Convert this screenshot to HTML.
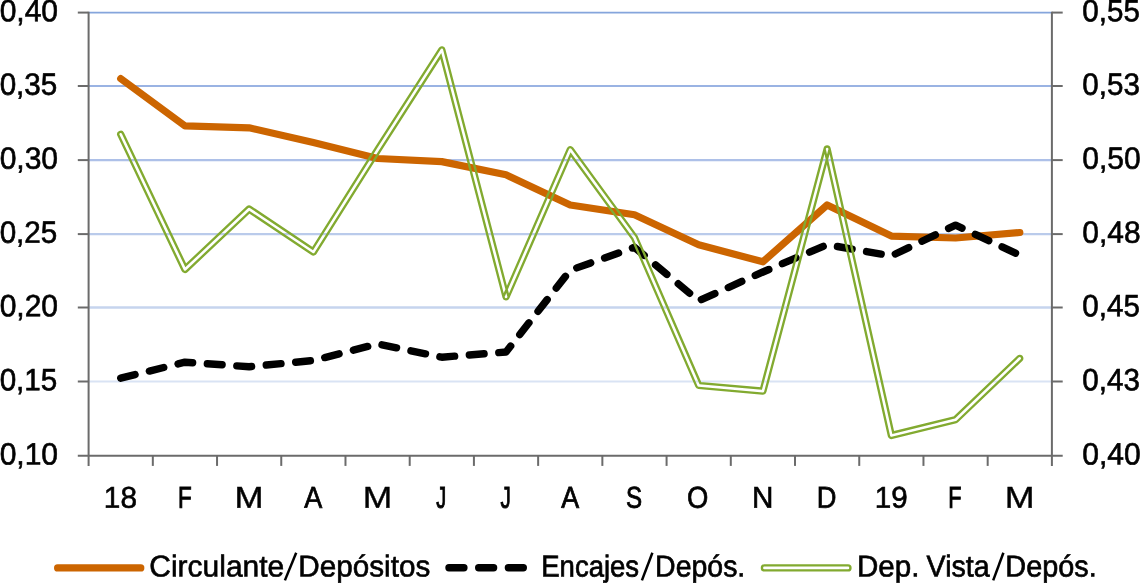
<!DOCTYPE html>
<html lang="es"><head><meta charset="utf-8"><title>Chart</title>
<style>
html,body{margin:0;padding:0;background:#ffffff;}
body{width:1140px;height:583px;overflow:hidden;font-family:"Liberation Sans",sans-serif;}
svg{display:block;}
</style></head><body>
<svg width="1140" height="583" viewBox="0 0 1140 583">
<rect width="1140" height="583" fill="#ffffff"/>
<g>
<g fill="none">
<line x1="88.6" y1="12.58" x2="1051.9" y2="12.58" stroke="#85a5dc" stroke-width="1.9"/>
<line x1="88.6" y1="86.00" x2="1051.9" y2="86.00" stroke="#9ab3e3" stroke-width="2.1"/>
<line x1="88.6" y1="160.10" x2="1051.9" y2="160.10" stroke="#adc0e8" stroke-width="2.1"/>
<line x1="88.6" y1="234.10" x2="1051.9" y2="234.10" stroke="#bacbeb" stroke-width="2.1"/>
<line x1="88.6" y1="307.50" x2="1051.9" y2="307.50" stroke="#c6d4ee" stroke-width="2.4"/>
<line x1="88.6" y1="381.50" x2="1051.9" y2="381.50" stroke="#d9e3f4" stroke-width="2.1"/>
</g>
<g stroke="#6b6b6b" stroke-width="2.0" fill="none">
<line x1="88.6" y1="11.85" x2="88.6" y2="465.91"/>
<line x1="1051.9" y1="11.85" x2="1051.9" y2="465.91"/>
<line x1="77.80" y1="455.71" x2="1062.70" y2="455.71"/>
<line x1="77.80" y1="12.58" x2="88.6" y2="12.58"/>
<line x1="1051.9" y1="12.58" x2="1062.70" y2="12.58"/>
<line x1="77.80" y1="86.00" x2="88.6" y2="86.00"/>
<line x1="1051.9" y1="86.00" x2="1062.70" y2="86.00"/>
<line x1="77.80" y1="160.10" x2="88.6" y2="160.10"/>
<line x1="1051.9" y1="160.10" x2="1062.70" y2="160.10"/>
<line x1="77.80" y1="234.10" x2="88.6" y2="234.10"/>
<line x1="1051.9" y1="234.10" x2="1062.70" y2="234.10"/>
<line x1="77.80" y1="307.50" x2="88.6" y2="307.50"/>
<line x1="1051.9" y1="307.50" x2="1062.70" y2="307.50"/>
<line x1="77.80" y1="381.50" x2="88.6" y2="381.50"/>
<line x1="1051.9" y1="381.50" x2="1062.70" y2="381.50"/>
<line x1="152.82" y1="455.71" x2="152.82" y2="465.91"/>
<line x1="217.04" y1="455.71" x2="217.04" y2="465.91"/>
<line x1="281.26" y1="455.71" x2="281.26" y2="465.91"/>
<line x1="345.48" y1="455.71" x2="345.48" y2="465.91"/>
<line x1="409.70" y1="455.71" x2="409.70" y2="465.91"/>
<line x1="473.92" y1="455.71" x2="473.92" y2="465.91"/>
<line x1="538.14" y1="455.71" x2="538.14" y2="465.91"/>
<line x1="602.36" y1="455.71" x2="602.36" y2="465.91"/>
<line x1="666.58" y1="455.71" x2="666.58" y2="465.91"/>
<line x1="730.80" y1="455.71" x2="730.80" y2="465.91"/>
<line x1="795.02" y1="455.71" x2="795.02" y2="465.91"/>
<line x1="859.24" y1="455.71" x2="859.24" y2="465.91"/>
<line x1="923.46" y1="455.71" x2="923.46" y2="465.91"/>
<line x1="987.68" y1="455.71" x2="987.68" y2="465.91"/>
</g>
<polyline points="120.71,78.60 184.93,125.80 249.15,127.80 313.37,142.50 377.59,158.50 441.81,161.60 506.03,174.80 570.25,205.00 634.47,214.80 698.69,244.80 762.91,261.80 827.13,205.00 891.35,236.10 955.57,238.00 1019.79,232.50" fill="none" stroke="#cc6500" stroke-width="7.2" stroke-linecap="round" stroke-linejoin="round"/>
<polyline points="120.71,378.20 184.93,362.20 249.15,366.70 313.37,360.50 377.59,343.90 441.81,357.20 506.03,352.00 570.25,270.20 634.47,247.30 698.69,300.80 762.91,272.00 827.13,244.70 891.35,255.90 955.57,225.10 1019.79,255.20" fill="none" stroke="#000000" stroke-width="7.4" stroke-linecap="round" stroke-linejoin="round" stroke-dasharray="14.8 14.75"/>
<path d="M118.47 135.36L182.69 270.56A2.475 2.475 0 0 0 186.63 271.30L249.41 212.15L311.99 254.06A2.475 2.475 0 0 0 315.46 253.32L379.68 151.33L440.84 56.00L503.63 297.52A2.475 2.475 0 0 0 508.30 297.89L570.79 154.54L632.31 238.84L696.42 386.39A2.475 2.475 0 0 0 698.47 387.87L762.69 393.57A2.475 2.475 0 0 0 765.30 391.73L829.52 149.63M824.71 149.54L888.93 436.04A2.475 2.475 0 0 0 891.94 437.90L956.16 422.10A2.475 2.475 0 0 0 957.28 421.49L1021.50 360.09M122.95 133.24L185.71 265.37L247.45 207.20A2.475 2.475 0 0 1 250.53 206.94L312.63 248.53L375.50 148.68A2.475 2.475 0 0 1 375.51 148.66L439.73 48.56A2.475 2.475 0 0 1 444.21 49.28L508.43 296.28M503.76 295.91L567.98 148.61A2.475 2.475 0 0 1 572.25 148.14L636.47 236.14A2.475 2.475 0 0 1 636.74 236.61L700.37 383.06L761.05 388.45L824.74 148.37A2.475 2.475 0 0 1 829.55 148.46L893.21 432.49L954.34 417.45L1018.08 356.51M118.47 135.36A2.475 2.475 0 0 1 122.95 133.24M1018.08 356.51A2.475 2.475 0 0 1 1021.50 360.09" fill="none" stroke="#82aa30" stroke-width="2.35" stroke-linecap="round" stroke-linejoin="miter" stroke-miterlimit="6"/>
<line x1="57.6" y1="567.9" x2="140.8" y2="567.9" stroke="#cc6500" stroke-width="7.2" stroke-linecap="round"/>
<line x1="449.0" y1="567.75" x2="535" y2="567.75" stroke="#000000" stroke-width="7.4" stroke-linecap="round" stroke-dasharray="14.9 14.8"/>
<path d="M764.40 570.38L848.00 570.38M764.40 565.42L848.00 565.42M764.40 570.38A2.475 2.475 0 0 1 764.40 565.42M848.00 565.42A2.475 2.475 0 0 1 848.00 570.38" fill="none" stroke="#82aa30" stroke-width="2.35" stroke-linecap="round"/>
<line x1="284.90" y1="580.4" x2="296.20" y2="552.8" stroke="#000" stroke-width="2.5"/>
<line x1="641.90" y1="580.4" x2="652.40" y2="552.8" stroke="#000" stroke-width="2.5"/>
<line x1="993.20" y1="580.4" x2="1003.40" y2="552.8" stroke="#000" stroke-width="2.5"/>
<g font-family="'Liberation Sans', sans-serif" font-size="30.2" fill="#000000" stroke="#000000" stroke-width="0.6" opacity="0.999" text-rendering="geometricPrecision">
<text transform="matrix(0.9947 0.0005 0 1.02 -0.37 21.28)" stroke-width="0.61">0,40</text>
<text transform="matrix(0.9811 0.0005 0 1.02 -0.36 94.70)" stroke-width="0.63">0,35</text>
<text transform="matrix(0.9947 0.0005 0 1.02 -0.37 168.80)" stroke-width="0.61">0,30</text>
<text transform="matrix(0.9811 0.0005 0 1.02 -0.36 242.80)" stroke-width="0.63">0,25</text>
<text transform="matrix(0.9947 0.0005 0 1.02 -0.37 316.20)" stroke-width="0.61">0,20</text>
<text transform="matrix(0.9811 0.0005 0 1.02 -0.36 390.20)" stroke-width="0.63">0,15</text>
<text transform="matrix(0.9947 0.0005 0 1.02 -0.37 464.40)" stroke-width="0.61">0,10</text>
<text transform="matrix(0.9793 0.0005 0 1.02 1082.34 21.28)" stroke-width="0.63">0,55</text>
<text transform="matrix(0.9793 0.0005 0 1.02 1082.34 94.70)" stroke-width="0.63">0,53</text>
<text transform="matrix(0.9947 0.0005 0 1.02 1082.33 168.80)" stroke-width="0.61">0,50</text>
<text transform="matrix(0.9916 0.0005 0 1.02 1082.33 242.80)" stroke-width="0.61">0,48</text>
<text transform="matrix(0.9793 0.0005 0 1.02 1082.34 316.20)" stroke-width="0.63">0,45</text>
<text transform="matrix(0.9793 0.0005 0 1.02 1082.34 390.20)" stroke-width="0.63">0,43</text>
<text transform="matrix(0.9947 0.0005 0 1.02 1082.33 464.40)" stroke-width="0.61">0,40</text>
<text transform="matrix(0.9861 0.0005 0 1 103.83 507.70)" stroke-width="0.61">18</text>
<text transform="matrix(0.7429 0.0005 0 1 178.01 507.70)" stroke-width="0.96">F</text>
<text transform="matrix(1.1539 0.0005 0 1 234.40 507.70)" stroke-width="0.39">M</text>
<text transform="matrix(0.8947 0.0005 0 1 304.35 507.70)" stroke-width="0.74">A</text>
<text transform="matrix(1.1733 0.0005 0 1 362.66 507.70)" stroke-width="0.36">M</text>
<text transform="matrix(0.6593 0.0005 0 1 436.18 507.70)" stroke-width="1.0">J</text>
<text transform="matrix(0.6815 0.0005 0 1 500.49 507.70)" stroke-width="1.0">J</text>
<text transform="matrix(0.8899 0.0005 0 1 561.14 507.70)" stroke-width="0.75">A</text>
<text transform="matrix(0.8000 0.0005 0 1 626.00 507.70)" stroke-width="0.88">S</text>
<text transform="matrix(0.9082 0.0005 0 1 687.08 507.70)" stroke-width="0.74">O</text>
<text transform="matrix(0.9829 0.0005 0 1 751.91 507.70)" stroke-width="0.63">N</text>
<text transform="matrix(0.9020 0.0005 0 1 816.68 507.70)" stroke-width="0.74">D</text>
<text transform="matrix(0.9803 0.0005 0 1 874.84 507.70)" stroke-width="0.63">19</text>
<text transform="matrix(0.7175 0.0005 0 1 948.37 507.70)" stroke-width="1.0">F</text>
<text transform="matrix(1.1879 0.0005 0 1 1004.73 507.70)" stroke-width="0.34">M</text>
<text transform="matrix(0.9931 0.0005 0 1 149.26 576.40)" stroke-width="0.61">Circulante</text>
<text transform="matrix(0.9827 0.0005 0 1 298.31 576.40)" stroke-width="0.63">Depósitos</text>
<text transform="matrix(0.9110 0.0005 0 1 541.26 576.40)" stroke-width="0.73">Encajes</text>
<text transform="matrix(0.9427 0.0005 0 1 655.10 576.40)" stroke-width="0.68">Depós.</text>
<text transform="matrix(0.9789 0.0005 0 1 857.02 576.40)" stroke-width="0.63">Dep.</text>
<text transform="matrix(0.9487 0.0005 0 1 926.56 576.40)" stroke-width="0.67">Vista</text>
<text transform="matrix(0.9547 0.0005 0 1 1005.37 576.40)" stroke-width="0.67">Depós.</text>
</g>
</g>
</svg>
</body></html>
